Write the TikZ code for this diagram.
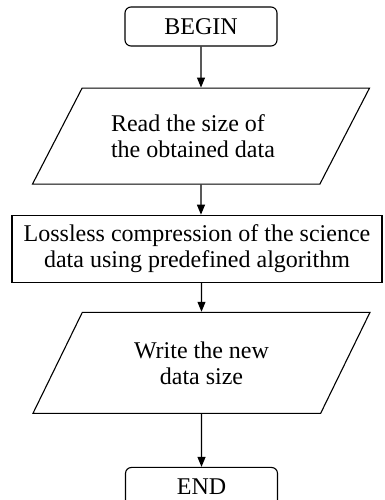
\documentclass[tikz,border=0pt]{standalone}
\usepackage{fontspec}
\setmainfont{Liberation Serif}
\usetikzlibrary{positioning, arrows.meta, shapes.geometric}
\tikzset{
    termnode/.style = {draw, rounded corners=6pt, minimum width=152pt,
                       minimum height=39pt, inner sep=0pt},
    ionode/.style   = {draw, trapezium, trapezium left angle=41,
                       trapezium right angle=139, trapezium stretches body,
                       minimum width=337pt, minimum height=96pt, inner sep=0pt,
                       align=center, execute at begin node={\rule{0pt}{32pt}}},
    procnode/.style = {draw, minimum width=370pt, minimum height=67pt,
                       inner sep=0pt, align=center},
    flow/.style     = {-{Triangle[length=10pt, width=8pt]}},
}
\begin{document}
\begin{tikzpicture}[x=1pt, y=1pt, line width=1.1pt,
                    font=\fontsize{24}{26}\selectfont]
\useasboundingbox (0,0) rectangle (384,-500);
\clip (0,0) rectangle (384,-500);

\node[termnode] (start) at (201,-26.5) {BEGIN};
\node[ionode, align=left, below=41pt of start] (read)
    {Read the size of\\the obtained data\hspace*{16pt}};
\node[procnode, below=30pt of read, xshift=-4pt] (compress)
    {Lossless compression of the science\\data using predefined algorithm};
\node[ionode, minimum height=101pt, below=29pt of compress, xshift=4.5pt] (write)
    {Write the new\\data size};
\node[termnode, below=53pt of write] (stop) {END};

\draw[flow] (start) -- (read);
\draw[flow] (read) -- (read |- compress.north);
\draw[flow] (compress.south -| write) -- (write);
\draw[flow] (write) -- (stop);

\end{tikzpicture}
\end{document}
